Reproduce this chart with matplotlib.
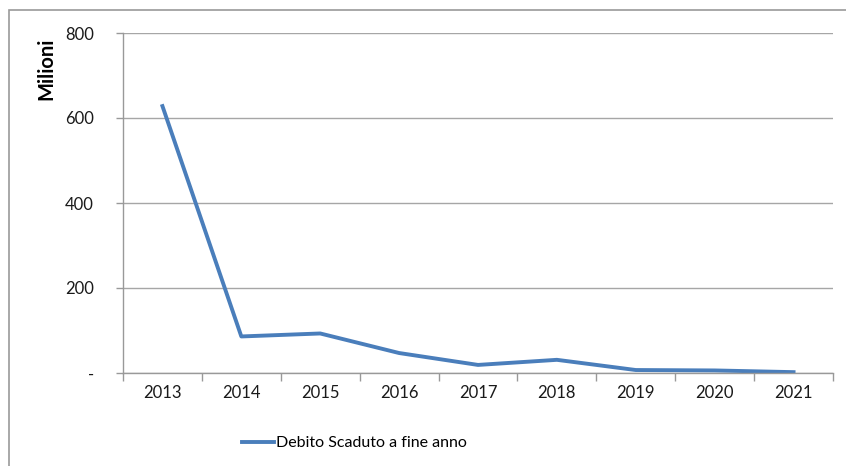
import numpy as np
import matplotlib
matplotlib.use("Agg")
import matplotlib.pyplot as plt
from matplotlib.patches import Rectangle

# dati (milioni)
anni = ["2013", "2014", "2015", "2016", "2017", "2018", "2019", "2020", "2021"]
debito = [628, 86, 93, 47, 19, 31, 7, 6, 2]
y_ticks = [0, 200, 400, 600, 800]
y_labels = ["-", "200", "400", "600", "800"]

plt.rcParams["font.family"] = ["Lato", "DejaVu Sans"]

fig = plt.figure(figsize=(8.46, 4.66), dpi=100)
ax = fig.add_axes([123/846, 1-373/466, (833-123)/846, (373-33)/466])

# cornice esterna
fig.patches.append(Rectangle((9/846, -0.05), 1.0, 1-10/466+0.05, transform=fig.transFigure,
                             fill=False, edgecolor="#9a9a9a", linewidth=1.2))

x = np.arange(len(anni))
ax.plot(x, debito, color="#4a7ebb", linewidth=2.8, label="Debito Scaduto a fine anno")

ax.set_xlim(-0.5, len(anni) - 0.5)
ax.set_ylim(0, 800)
ax.set_yticks(y_ticks)
ax.set_yticklabels(y_labels, fontsize=12, color="#1a1a1a")
ax.tick_params(axis="y", length=5, width=1, color="#999999", pad=16)

ax.set_xticks(np.arange(len(anni) + 1) - 0.5)
ax.set_xticklabels([])
ax.tick_params(axis="x", which="major", length=6, width=1, color="#999999")
ax.set_xticks(x, minor=True)
ax.set_xticklabels(anni, minor=True, fontsize=12, color="#1a1a1a")
ax.tick_params(axis="x", which="minor", length=0, pad=9)

ax.grid(axis="y", color="#a6a6a6", linewidth=1)
ax.set_axisbelow(True)
for s in ["top", "right"]:
    ax.spines[s].set_visible(False)
for s in ["left", "bottom"]:
    ax.spines[s].set_color("#999999")
    ax.spines[s].set_linewidth(1)

fig.text(46/846, 1-69/466, "Milioni", rotation=90, fontsize=14.5, fontweight="bold",
         ha="center", va="center")

fig.legend(loc="center left", bbox_to_anchor=(228/846, 1-443/466), frameon=False,
           fontsize=11.5, handlelength=2.0, handletextpad=0.1)

fig.savefig("out.png", dpi=100)
